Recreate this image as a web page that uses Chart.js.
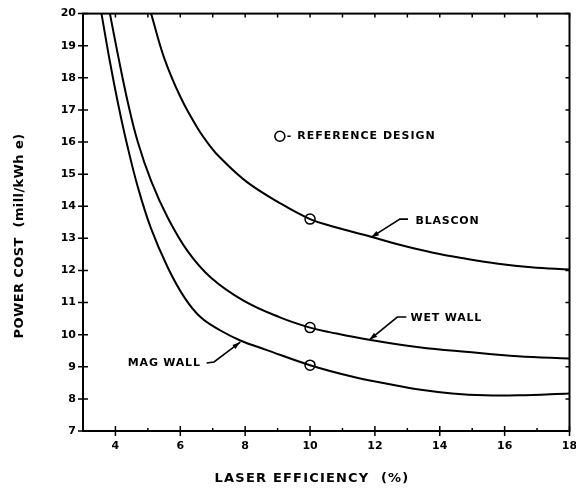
<!DOCTYPE html>
<html>
<head>
<meta charset="utf-8">
<script src="https://cdn.jsdelivr.net/npm/chart.js@4.4.1/dist/chart.umd.min.js"></script>
<style>
  html, body { margin: 0; padding: 0; background: #fff; }
</style>
</head>
<body>
<canvas id="chart" width="576" height="492"></canvas>
<script>
// Power cost vs. laser efficiency

const magWallX = [3.57, 3.83, 4.08, 4.34, 4.69, 5.10, 5.61, 6.12, 6.63, 7.24, 7.85, 8.67, 10, 11.32, 12.34, 13.36, 14.38, 15.39, 16.41, 18];
const magWallY = [20, 18.50, 17.20, 16.00, 14.60, 13.30, 12.10, 11.17, 10.54, 10.13, 9.82, 9.52, 9.05, 8.69, 8.48, 8.29, 8.17, 8.11, 8.11, 8.17];

const wetWallX = [3.83, 4.08, 4.39, 4.69, 5.10, 5.61, 6.22, 6.93, 7.95, 9.07, 10, 10.6, 11.82, 13.36, 14.89, 16.41, 18];
const wetWallY = [20, 18.70, 17.20, 16.00, 14.79, 13.65, 12.61, 11.79, 11.06, 10.54, 10.22, 10.08, 9.84, 9.61, 9.46, 9.33, 9.26];

const blasconX = [5.10, 5.51, 6.02, 6.53, 6.93, 7.24, 8.06, 9.07, 10, 10.7, 11.88, 12.76, 13.76, 14.78, 15.80, 16.82, 18];
const blasconY = [20, 18.60, 17.37, 16.44, 15.86, 15.50, 14.75, 14.10, 13.60, 13.37, 13.05, 12.80, 12.56, 12.37, 12.21, 12.10, 12.03];

// reference design points (circles)
const refDesignX = [10, 10, 10];
const refDesignY = [13.60, 10.22, 9.05];

const xTickLabels = [4, 6, 8, 10, 12, 14, 16, 18];
const yTickLabels = [7, 8, 9, 10, 11, 12, 13, 14, 15, 16, 17, 18, 19, 20];

const curveNames = ['BLASCON', 'WET WALL', 'MAG WALL'];
const xTitle = 'LASER EFFICIENCY  (%)';
const yTitle = 'POWER COST  (mill/kWh e)';
const refDesignLabel = '- REFERENCE DESIGN';

function toPoints(xs, ys) {
    return xs.map((x, i) => ({ x: x, y: ys[i] }));
}

const INK = '#000';
const LABEL_FONT = 'bold 11px "DejaVu Sans"';

// where the curve names and their leader arrows sit, in data units
const notes = [
    { text: curveNames[0], at: [13.25, 13.55], align: 'left', leader: [[13.02, 13.60], [12.77, 13.60], [11.88, 13.03]] },
    { text: curveNames[1], at: [13.10, 10.50], align: 'left', leader: [[12.97, 10.55], [12.69, 10.55], [11.83, 9.84]] },
    { text: curveNames[2], at: [6.63, 9.12], align: 'right', leader: [[6.81, 9.12], [7.04, 9.15], [7.85, 9.77]] }
];

const framePlugin = {
    id: 'frame',
    afterDatasetsDraw(chart) {
        const { ctx, chartArea: a, scales: { x, y } } = chart;
        ctx.save();
        ctx.strokeStyle = INK;
        ctx.fillStyle = INK;

        // box round the plot
        ctx.lineWidth = 2;
        ctx.strokeRect(a.left, a.top, a.right - a.left, a.bottom - a.top);

        // tick marks
        ctx.lineWidth = 1.5;
        ctx.beginPath();
        yTickLabels.forEach(v => {
            const py = y.getPixelForValue(v);
            ctx.moveTo(a.left - 5, py);
            ctx.lineTo(a.left + 5, py);
            ctx.moveTo(a.right, py);
            ctx.lineTo(a.right - 4, py);
        });
        for (let v = Math.ceil(x.min); v <= x.max; v++) {
            const px = x.getPixelForValue(v);
            if (xTickLabels.includes(v)) {
                ctx.moveTo(px, a.bottom + 5);
                ctx.lineTo(px, a.bottom - 5);
            } else {
                ctx.moveTo(px, a.bottom);
                ctx.lineTo(px, a.bottom - 3);
            }
            ctx.moveTo(px, a.top);
            ctx.lineTo(px, a.top + 4);
        }
        ctx.stroke();

        // curve names with leader arrows
        ctx.font = LABEL_FONT;
        ctx.letterSpacing = '0.8px';
        ctx.textBaseline = 'middle';
        ctx.lineWidth = 1.6;
        notes.forEach(n => {
            ctx.textAlign = n.align;
            ctx.fillText(n.text, x.getPixelForValue(n.at[0]), y.getPixelForValue(n.at[1]));
            const pts = n.leader.map(p => [x.getPixelForValue(p[0]), y.getPixelForValue(p[1])]);
            ctx.beginPath();
            pts.forEach((p, i) => i ? ctx.lineTo(p[0], p[1]) : ctx.moveTo(p[0], p[1]));
            ctx.stroke();
            // arrow head at the last point
            const [x1, y1] = pts[pts.length - 2];
            const [x2, y2] = pts[pts.length - 1];
            const ang = Math.atan2(y2 - y1, x2 - x1);
            ctx.beginPath();
            ctx.moveTo(x2, y2);
            ctx.lineTo(x2 - 8 * Math.cos(ang) + 2.5 * Math.sin(ang), y2 - 8 * Math.sin(ang) - 2.5 * Math.cos(ang));
            ctx.lineTo(x2 - 8 * Math.cos(ang) - 2.5 * Math.sin(ang), y2 - 8 * Math.sin(ang) + 2.5 * Math.cos(ang));
            ctx.closePath();
            ctx.fill();
        });

        // reference design key
        const kx = x.getPixelForValue(9.07);
        const ky = y.getPixelForValue(16.18);
        ctx.beginPath();
        ctx.arc(kx, ky, 5, 0, Math.PI * 2);
        ctx.stroke();
        ctx.textAlign = 'left';
        ctx.letterSpacing = '1px';
        ctx.fillText(refDesignLabel, kx + 7, ky);

        // axis titles
        ctx.font = 'bold 13px "DejaVu Sans"';
        ctx.letterSpacing = '1.2px';
        ctx.textAlign = 'center';
        ctx.fillText(xTitle, 312, 479);
        ctx.letterSpacing = '0.4px';
        ctx.translate(20, 236);
        ctx.rotate(-Math.PI / 2);
        ctx.fillText(yTitle, 0, 0);
        ctx.restore();
    }
};

const tickFont = { family: 'DejaVu Sans', weight: 'bold', size: 11 };

const curveStyle = {
    borderColor: INK,
    borderWidth: 2,
    pointRadius: 0,
    fill: false,
    tension: 0.4
};

new Chart(document.getElementById('chart').getContext('2d'), {
    type: 'line',
    data: {
        datasets: [
            { label: curveNames[2], data: toPoints(magWallX, magWallY), ...curveStyle },
            { label: curveNames[1], data: toPoints(wetWallX, wetWallY), ...curveStyle },
            { label: curveNames[0], data: toPoints(blasconX, blasconY), ...curveStyle },
            {
                type: 'scatter',
                label: 'REFERENCE DESIGN',
                data: toPoints(refDesignX, refDesignY),
                showLine: false,
                pointRadius: 5,
                pointBorderWidth: 1.5,
                pointBorderColor: INK,
                pointBackgroundColor: '#fff'
            }
        ]
    },
    options: {
        responsive: false,
        animation: false,
        layout: { padding: { top: 12, right: 4, left: 0, bottom: 0 } },
        plugins: { legend: { display: false }, tooltip: { enabled: false } },
        scales: {
            x: {
                type: 'linear',
                min: 3,
                max: 18,
                grid: { display: false, drawTicks: false },
                border: { display: false },
                ticks: {
                    stepSize: 2,
                    includeBounds: false,
                    padding: 9,
                    color: INK,
                    font: tickFont,
                    callback: v => xTickLabels.includes(v) ? String(v) : null
                },
                afterFit(s) { s.height = 61; s.paddingRight = 0; }
            },
            y: {
                type: 'linear',
                min: 7,
                max: 20,
                grid: { display: false, drawTicks: false },
                border: { display: false },
                ticks: {
                    stepSize: 1,
                    padding: 7,
                    color: INK,
                    font: tickFont,
                    callback: v => yTickLabels.includes(v) ? String(v) : null
                },
                afterFit(s) { s.width = 83; }
            }
        }
    },
    plugins: [framePlugin]
});
</script>
</body>
</html>
